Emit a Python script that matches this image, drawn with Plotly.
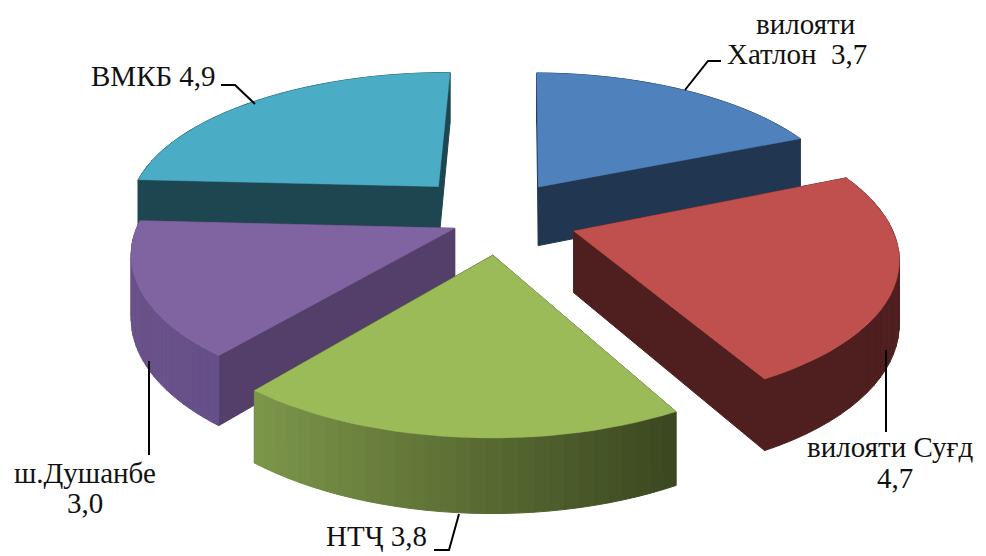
import numpy as np
import plotly.graph_objects as go

categories = ["вилояти<br>Хатлон  3,7", "вилояти Суғд<br>4,7", "НТҶ 3,8", "ш.Душанбе<br>3,0", "ВМКБ 4,9"]
values = [3.7, 4.7, 3.8, 3.0, 4.9]
explode_x = [42, 75, -5, -43, -62]
explode_y = [-81, 20, 71, 14, -82]
top_colors = ["#4F81BD", "#C0504D", "#9BBB59", "#8064A2", "#4BACC6"]
face_colors = ["#213651", "#4F1F1F", "#3E4A22", "#543F6B", "#1E4651"]
wall_left = ["#213651", "#4F1F1F", "#7D974A", "#6A5188", "#1E4651"]
wall_right = ["#213651", "#4F1F1F", "#3C4820", "#66508A", "#1E4651"]
draw_order = [0, 4, 3, 1, 2]

# view of the tilted pie
CX, CY, R, K, P, H, START = 498, 222, 316, 0.45, 0.0005, 61, 0.8


def project(x, y, z):
    s = 1.0 / (1.0 - P * y)
    return CX + x * s, CY + (K * y - z) * s


def hex_mix(a, b, t):
    ca = [int(a[i:i + 2], 16) for i in (1, 3, 5)]
    cb = [int(b[i:i + 2], 16) for i in (1, 3, 5)]
    return "rgb(%d,%d,%d)" % tuple(round(u + (v - u) * t) for u, v in zip(ca, cb))


def poly(points, color, width=1.0):
    pts = list(points) + [points[0]]
    return go.Scatter(x=[p[0] for p in pts], y=[p[1] for p in pts], mode="lines", fill="toself",
                      fillcolor=color, line=dict(color=color, width=width),
                      hoverinfo="skip", showlegend=False)


total = sum(values)
edges = START + np.cumsum([0] + values) / total * 360.0
fig = go.Figure()

for i in draw_order:
    a0, a1 = edges[i], edges[i + 1]
    ox, oy = explode_x[i], explode_y[i]
    th = np.radians(np.linspace(a0, a1, 31))
    xs = ox + R * np.sin(th)
    ys = oy - R * np.cos(th)
    rim_top = [project(x, y, 0) for x, y in zip(xs, ys)]
    rim_bot = [project(x, y, -H) for x, y in zip(xs, ys)]
    apex_t, apex_b = project(ox, oy, 0), project(ox, oy, -H)

    # walls, furthest first
    walls = []
    for j in range(len(th) - 1):
        t = np.clip((rim_top[j][0] - 255) / 420.0, 0, 1) if i == 2 else (
            np.clip((rim_top[j][0] - 130) / 100.0, 0, 1))
        walls.append(((ys[j] + ys[j + 1]) / 2,
                      [rim_top[j], rim_top[j + 1], rim_bot[j + 1], rim_bot[j]],
                      hex_mix(wall_left[i], wall_right[i], t)))
    walls.append(((ys[0] + oy) / 2, [apex_t, rim_top[0], rim_bot[0], apex_b], face_colors[i]))
    walls.append(((ys[-1] + oy) / 2, [apex_t, rim_top[-1], rim_bot[-1], apex_b], face_colors[i]))
    for _, pts, col in sorted(walls, key=lambda w: w[0]):
        fig.add_trace(poly(pts, col))
    fig.add_trace(poly([apex_t] + rim_top, top_colors[i], 0.5))

label_font = dict(family="Liberation Serif", size=29, color="#111111")
label_pos = [[(805, 24), (797, 54)], [(890, 447), (895, 478)], [(376, 536)], [(85, 473), (85, 503)], [(153, 76)]]
for text, lines in zip(categories, label_pos):
    for part, (lx, ly) in zip(text.split("<br>"), lines):
        fig.add_annotation(x=lx, y=ly, text=part, showarrow=False, xref="x", yref="y",
                           font=label_font, align="center")

leaders = ["M685,90 L708,61 L721,61", "M886,350 L886,432", "M459,514 L449,550 L434,550",
           "M149,361 L149,455", "M255,104 L235,85 L221,85"]
for path in leaders:
    fig.add_shape(type="path", path=path, xref="x", yref="y", line=dict(color="black", width=2))

fig.update_layout(
    width=978, height=548, margin=dict(l=0, r=0, t=0, b=0),
    paper_bgcolor="white", plot_bgcolor="white", showlegend=False,
    xaxis=dict(range=[8, 986], visible=False, fixedrange=True),
    yaxis=dict(range=[556, 8], visible=False, fixedrange=True),
)
fig.write_html("out.html", config={"displayModeBar": False})
